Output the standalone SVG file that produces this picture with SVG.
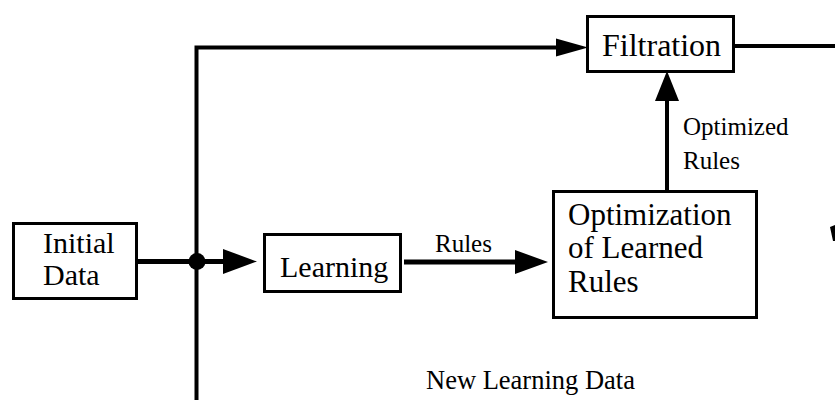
<svg xmlns="http://www.w3.org/2000/svg" width="835" height="400" viewBox="0 0 835 400" font-family="Liberation Serif, Times New Roman, DejaVu Serif, serif">
  <style>
    .box { fill: #fff; stroke: #000; stroke-width: 3; }
    .line { fill: none; stroke: #000; stroke-width: 4; }
    .head { fill: #000; }
    .big { font-size: 31px; }
    .small { font-size: 25px; }
  </style>

  <!-- connectors -->
  <g id="connectors">
    <!-- feedback loop: down the left side and along the top into Filtration -->
    <polyline class="line" points="196.5,400 196.5,47.5 560,47.5"/>
    <polygon class="head" points="556,38.5 588,47.5 556,56.5"/>
    <!-- Initial Data to Learning via junction -->
    <line class="line" x1="137" y1="261.5" x2="226" y2="261.5" style="stroke-width:5"/>
    <circle cx="197" cy="261.5" r="8.5" class="head"/>
    <polygon class="head" points="223,249 257,261.5 223,274"/>
    <!-- Learning to Optimization -->
    <line class="line" x1="404" y1="262" x2="518" y2="262" style="stroke-width:5"/>
    <polygon class="head" points="515,250 548,262 515,274"/>
    <text class="small" x="435" y="252">Rules</text>
    <!-- Optimization up to Filtration -->
    <line class="line" x1="667" y1="191" x2="667" y2="98"/>
    <polygon class="head" points="655,101 667,71 679,101"/>
    <text class="small" x="683" y="135">Optimized</text>
    <text class="small" x="683" y="169">Rules</text>
    <!-- Filtration output -->
    <line class="line" x1="734" y1="46" x2="835" y2="46"/>
    <polygon class="head" points="830,227 835,225 835,241 833,241"/>
    <!-- label of the loop -->
    <text font-size="26.5" x="426" y="389">New Learning Data</text>
  </g>

  <g id="initial-data">
    <rect class="box" x="13.5" y="223.5" width="123" height="75"/>
    <text font-size="30" x="43" y="253">Initial</text>
    <text font-size="30" x="43" y="285">Data</text>
  </g>

  <g id="learning">
    <rect class="box" x="264.5" y="234.5" width="136" height="57"/>
    <text font-size="30" x="280" y="277">Learning</text>
  </g>

  <g id="optimization">
    <rect class="box" x="553.5" y="191.5" width="203" height="126"/>
    <text class="big" x="568" y="225">Optimization</text>
    <text class="big" x="568" y="258">of Learned</text>
    <text class="big" x="568" y="292">Rules</text>
  </g>

  <g id="filtration">
    <rect class="box" x="587.5" y="16.5" width="146" height="55"/>
    <text font-size="32" x="602" y="56">Filtration</text>
  </g>
</svg>
